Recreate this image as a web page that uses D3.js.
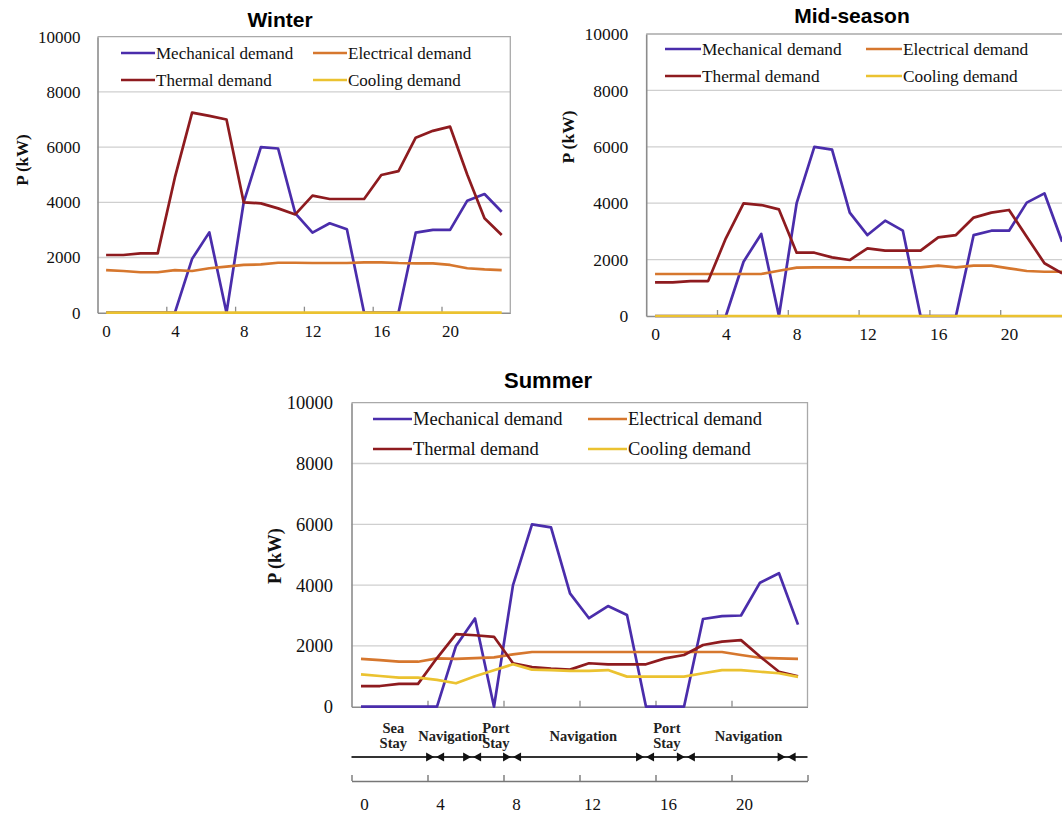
<!DOCTYPE html>
<html><head><meta charset="utf-8">
<script src="https://cdn.jsdelivr.net/npm/d3@7"></script>
<style>body{margin:0;background:#fff;} svg{display:block;}</style>
</head><body><svg id="c" width="1062" height="813"></svg>
<script>
// ---------- data ----------
const hours = d3.range(24);
const yTicks = [0, 2000, 4000, 6000, 8000, 10000];
const xTickLabels = [0, 4, 8, 12, 16, 20];
const xTickMarks = [3.5, 7.5, 11.5, 15.5, 19.5];
const seriesNames = ["Mechanical demand", "Electrical demand", "Thermal demand", "Cooling demand"];
const seriesColors = ["#4a2dab", "#d6772e", "#8e1b1f", "#ebc230"];

const winterMech    = [0,0,0,0,0,1950,2910,0,4000,6000,5950,3600,2900,3240,3020,0,0,0,2900,3000,3000,4060,4300,3660];
const winterElec    = [1545,1510,1465,1465,1545,1510,1610,1670,1730,1750,1810,1810,1800,1800,1800,1825,1825,1800,1790,1790,1730,1610,1570,1545];
const winterThermal = [2090,2090,2150,2150,4900,7250,7130,7000,4000,3960,3780,3560,4240,4120,4120,4120,4990,5130,6340,6590,6740,5000,3420,2815];
const winterCooling = [0,0,0,0,0,0,0,0,0,0,0,0,0,0,0,0,0,0,0,0,0,0,0,0];

const midMech    = [0,0,0,0,0,1925,2910,0,4000,6000,5900,3665,2870,3380,3025,0,0,0,2870,3025,3025,4020,4350,2635];
const midElec    = [1490,1490,1490,1490,1490,1490,1490,1605,1715,1725,1725,1725,1725,1725,1725,1725,1785,1725,1785,1785,1690,1595,1570,1570];
const midThermal = [1195,1195,1240,1240,2755,3995,3935,3780,2245,2245,2080,1985,2400,2316,2316,2316,2790,2870,3490,3665,3760,2810,1870,1515];
const midCooling = [0,0,0,0,0,0,0,0,0,0,0,0,0,0,0,0,0,0,0,0,0,0,0,0];

const summerMech    = [0,0,0,0,0,2000,2900,0,4000,6000,5900,3730,2910,3310,3015,0,0,0,2885,2980,3000,4080,4390,2700];
const summerElec    = [1570,1530,1480,1480,1590,1570,1600,1625,1720,1800,1800,1800,1800,1800,1800,1800,1800,1800,1800,1800,1700,1610,1590,1570];
const summerThermal = [680,680,750,750,1600,2390,2350,2300,1430,1300,1250,1220,1430,1395,1395,1395,1590,1700,2030,2140,2190,1650,1150,1000];
const summerCooling = [1065,1010,955,955,880,770,1000,1200,1395,1220,1200,1180,1180,1205,990,990,990,990,1100,1205,1205,1150,1100,980];

const phaseNames = ["Sea\nStay", "Navigation", "Port\nStay", "Navigation", "Port\nStay", "Navigation"];
const phaseCenters = [1.7, 4.8, 7.1, 11.7, 16.1, 20.4];
const phaseMarkers = [3.9, 5.85, 7.95, 14.95, 17.1, 22.4];
const timelineTicks = [-0.5, 3.5, 7.5, 11.5, 15.5, 19.5, 23.5];

// ---------- drawing ----------
const svg = d3.select("#c");
svg.append("rect").attr("width", 1062).attr("height", 813).attr("fill", "#fff");
const SERIF = "'Liberation Serif', 'Times New Roman', serif";
const SANS = "'Liberation Sans', Arial, sans-serif";

function drawChart(cfg, series) {
  const g = svg.append("g");
  const x = d3.scaleLinear().domain([-0.5, 23.5]).range([cfg.x0, cfg.x1]);
  const y = d3.scaleLinear().domain([0, 10000]).range([cfg.yBot, cfg.yTop]);

  // gridlines
  g.selectAll(".grid").data(yTicks.slice(1, -1)).join("line")
    .attr("x1", cfg.x0).attr("x2", cfg.x1)
    .attr("y1", d => y(d)).attr("y2", d => y(d))
    .attr("stroke", "#cfcfcf").attr("stroke-width", 1.3);
  // frame top/right
  g.append("path")
    .attr("d", `M${cfg.x0},${y(10000)}H${cfg.x1}V${y(0)}`)
    .attr("fill", "none").attr("stroke", "#a9a9a9").attr("stroke-width", 1.3);

  // y axis
  const ya = g.append("g").attr("transform", `translate(${cfg.x0},0)`)
    .call(d3.axisLeft(y).tickValues(yTicks).tickSize(0).tickSizeOuter(0)
      .tickPadding(cfg.yPad).tickFormat(d3.format("d")));
  ya.attr("font-family", null).attr("font-size", null);
  ya.select(".domain").attr("stroke", "#8c8c8c").attr("stroke-width", 1.6);
  ya.selectAll("text").style("font-family", SERIF).style("font-size", cfg.tick + "px").attr("fill", "#111");

  // x axis (tick marks at category boundaries)
  const xa = g.append("g").attr("transform", `translate(0,${cfg.yBot})`)
    .call(d3.axisBottom(x).tickValues(xTickMarks).tickSize(-6).tickSizeOuter(0).tickFormat(""));
  xa.select(".domain").attr("stroke", "#8c8c8c").attr("stroke-width", 1.6);
  xa.selectAll(".tick line").attr("stroke", "#8c8c8c").attr("stroke-width", 1.3);

  if (cfg.xLabels) {
    const xl = g.append("g").attr("transform", `translate(0,${cfg.yBot})`)
      .call(d3.axisBottom(x).tickValues(xTickLabels).tickSize(0).tickPadding(cfg.xPad));
    xl.attr("font-family", null).attr("font-size", null);
    xl.select(".domain").remove();
    xl.selectAll("text").style("font-family", SERIF).style("font-size", cfg.tick + "px").attr("fill", "#111");
  }

  // lines
  const line = d3.line().x((d, i) => x(hours[i])).y(d => y(d));
  series.forEach((s, k) => {
    g.append("path").datum(s).attr("d", line)
      .attr("fill", "none").attr("stroke", seriesColors[k])
      .attr("stroke-width", 2.7).attr("stroke-linejoin", "round");
  });

  // legend
  const L = cfg.legend;
  seriesNames.forEach((name, k) => {
    const col = k % 2, row = Math.floor(k / 2);
    const lx = col === 0 ? L.x : L.x2;
    const ly = row === 0 ? L.r1 : L.r2;
    g.append("line").attr("x1", lx).attr("x2", lx + L.len).attr("y1", ly).attr("y2", ly)
      .attr("stroke", seriesColors[k]).attr("stroke-width", 2.7);
    g.append("text").attr("x", lx + L.len + 1).attr("y", ly).attr("dy", "0.33em")
      .style("font-family", SERIF).style("font-size", cfg.legendSize + "px").attr("fill", "#111")
      .text(name);
  });

  // title
  g.append("text").attr("x", cfg.titleX).attr("y", cfg.titleY).attr("dy", "0.35em")
    .attr("text-anchor", "middle").style("font-family", SANS).style("font-weight", "bold")
    .style("font-size", cfg.titleSize + "px").attr("fill", "#000").text(cfg.title);

  // y title
  g.append("text").attr("transform", `translate(${cfg.yTitleX},${cfg.yTitleY}) rotate(-90)`)
    .attr("text-anchor", "middle").attr("dy", "0.35em")
    .style("font-family", SERIF).style("font-weight", "bold")
    .style("font-size", cfg.yTitleSize + "px").attr("fill", "#111").text("P (kW)");

  return x;
}

drawChart({
  title: "Winter", titleX: 280, titleY: 20, titleSize: 21,
  x0: 97.5, x1: 510.3, yTop: 36.7, yBot: 312.7,
  tick: 17, yPad: 17, xPad: 12, xLabels: true, legendSize: 17,
  legend: { x: 121, x2: 313, len: 34, r1: 53, r2: 80 },
  yTitleX: 22, yTitleY: 160, yTitleSize: 17
}, [winterMech, winterElec, winterThermal, winterCooling]);

drawChart({
  title: "Mid-season", titleX: 852, titleY: 16, titleSize: 21,
  x0: 646.2, x1: 1071, yTop: 34, yBot: 316,
  tick: 17.5, yPad: 18, xPad: 12, xLabels: true, legendSize: 17.3,
  legend: { x: 665, x2: 866, len: 36, r1: 49, r2: 76 },
  yTitleX: 568, yTitleY: 137, yTitleSize: 17.5
}, [midMech, midElec, midThermal, midCooling]);

const xs = drawChart({
  title: "Summer", titleX: 548, titleY: 380, titleSize: 22,
  x0: 351.5, x1: 807.5, yTop: 402.7, yBot: 706.7,
  tick: 18.5, yPad: 18.5, xPad: 12, xLabels: false, legendSize: 18.5,
  legend: { x: 373, x2: 588, len: 39, r1: 419, r2: 449 },
  yTitleX: 275, yTitleY: 556, yTitleSize: 18.5
}, [summerMech, summerElec, summerThermal, summerCooling]);

// ---------- operating phases timeline (summer) ----------
const tg = svg.append("g");
const tY = 757;
tg.append("line").attr("x1", xs(-0.5)).attr("x2", xs(23.5)).attr("y1", tY).attr("y2", tY)
  .attr("stroke", "#333").attr("stroke-width", 1.8);
phaseMarkers.forEach(b => {
  const cx = xs(b);
  tg.append("path").attr("d", `M${cx - 1},${tY}L${cx - 9},${tY - 4.5}L${cx - 9},${tY + 4.5}Z`).attr("fill", "#111");
  tg.append("path").attr("d", `M${cx + 1},${tY}L${cx + 9},${tY - 4.5}L${cx + 9},${tY + 4.5}Z`).attr("fill", "#111");
});
phaseNames.forEach((name, i) => {
  const lines = name.split("\n");
  const t = tg.append("text").attr("x", xs(phaseCenters[i])).attr("text-anchor", "middle")
    .style("font-family", SERIF).style("font-weight", "bold").style("font-size", "14.5px").attr("fill", "#222");
  if (lines.length === 1) {
    t.attr("y", 736).attr("dy", "0.35em").text(lines[0]);
  } else {
    lines.forEach((ln, j) => {
      t.append("tspan").attr("x", xs(phaseCenters[i])).attr("y", 728 + j * 15).attr("dy", "0.35em").text(ln);
    });
  }
});

// lower hour axis
const la = tg.append("g").attr("transform", `translate(0,781)`)
  .call(d3.axisBottom(xs).tickValues(timelineTicks).tickSize(-6).tickSizeOuter(0).tickFormat(""));
la.select(".domain").attr("stroke", "#777").attr("stroke-width", 1.5);
la.selectAll(".tick line").attr("stroke", "#777").attr("stroke-width", 1.4);
const ll = tg.append("g").attr("transform", `translate(3,781)`)
  .call(d3.axisBottom(xs).tickValues(xTickLabels).tickSize(0).tickPadding(16.5));
ll.attr("font-family", null).attr("font-size", null);
ll.select(".domain").remove();
ll.selectAll("text").style("font-family", SERIF).style("font-size", "17px").attr("fill", "#111");
</script>
</body></html>
